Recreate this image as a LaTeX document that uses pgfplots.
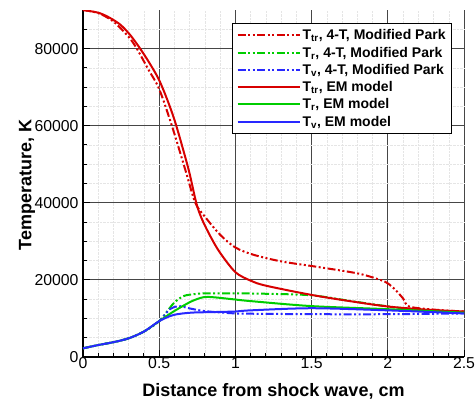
\documentclass[border=0pt]{standalone}
\usepackage{pgfplots}
\pgfplotsset{compat=1.18}
\usepackage{fontspec}
\setmainfont{Liberation Sans}
\definecolor{cred}{RGB}{215,0,0}
\definecolor{cgreen}{RGB}{0,205,0}
\definecolor{cblue}{RGB}{40,40,255}
\tikzset{ddot/.style={dash pattern=on 8pt off 2.5pt on 2pt off 2.5pt on 2pt off 2.5pt}}
\begin{document}
\begin{tikzpicture}
\begin{axis}[
  at={(0,0)}, anchor=south west,
  scale only axis, width=381pt, height=347pt,
  xmin=0, xmax=2.5, ymin=0, ymax=90000,
  axis x line*=bottom, axis y line*=left,
  axis line style={line width=1.6pt, -},
  xtick={0,0.5,1,1.5,2,2.5},
  ytick={0,20000,40000,60000,80000},
  minor xtick={0.1,0.2,0.3,0.4,0.6,0.7,0.8,0.9,1.1,1.2,1.3,1.4,1.6,1.7,1.8,1.9,2.1,2.2,2.3,2.4},
  minor ytick={5000,10000,15000,25000,30000,35000,45000,50000,55000,65000,70000,75000,85000},
  scaled y ticks=false,
  /pgf/number format/.cd, 1000 sep={}, assume math mode=true, /pgfplots/.cd,
  tick align=inside,
  major tick length=7pt, minor tick length=4pt,
  every tick/.style={black, line width=1pt},
  grid=both,
  major grid style={gray!55!black, line width=0.9pt},
  minor grid style={densely dotted, gray!20, line width=0.5pt},
  ticklabel style={font=\fontsize{15.8}{18}\selectfont},
  xticklabel style={yshift=3pt},
  yticklabel style={xshift=-1pt},
  xlabel={\textbf{Distance from shock wave, cm}},
  ylabel={\textbf{Temperature, K}},
  label style={font=\fontsize{18}{21}\selectfont},
  xlabel style={at={(axis description cs:0.5,-0.098)}, anchor=center},
  ylabel style={at={(axis description cs:-0.147,0.496)}, anchor=center},
  legend image code/.code={\draw[#1, line width=2pt] (0pt,0pt) -- (62pt,0pt);},
  legend style={at={(0.9685,0.962)}, anchor=north east, draw=black, line width=0.9pt,
    fill=white, font=\fontsize{14}{16}\selectfont\bfseries, inner sep=4pt,
    row sep=1.6pt, cells={anchor=west}},
  legend cell align=left,
  every axis plot/.append style={line width=2pt, smooth, tension=0.5},
]
\addplot[cred, ddot] coordinates {(0,90000)(0.1,89200)(0.2,87000)(0.3,83000)(0.353,80000)(0.43,74500)(0.5,69500)(0.583,60000)(0.671,48600)(0.737,40000)(0.8,36400)(0.9,31700)(1.0,28400)(1.12,26500)(1.3,24800)(1.5,23600)(1.8,21700)(1.95,20000)(2.0,19100)(2.05,17400)(2.1,15200)(2.14,13100)(2.3,12300)(2.5,11800)};
\addlegendentry{T\textsubscript{tr}, 4-T, Modified Park}
\addplot[cgreen, ddot] coordinates {(0,2250)(0.1,3100)(0.2,3850)(0.3,4850)(0.4,6600)(0.5,9300)(0.594,13900)(0.66,15800)(0.73,16300)(0.8,16500)(1.0,16500)(1.2,16400)(1.5,16000)(1.76,14500)(1.97,13300)(2.2,12200)(2.5,11500)};
\addlegendentry{T\textsubscript{r}, 4-T, Modified Park}
\addplot[cblue, ddot] coordinates {(0,2250)(0.1,3100)(0.2,3850)(0.3,4850)(0.4,6600)(0.5,9300)(0.57,12400)(0.63,13200)(0.7,12600)(0.8,11900)(1.0,11300)(1.2,11200)(1.5,11100)(2.0,11100)(2.5,11300)};
\addlegendentry{T\textsubscript{v}, 4-T, Modified Park}
\addplot[cred] coordinates {(0,90000)(0.1,89300)(0.17,88100)(0.245,86200)(0.31,83500)(0.375,80000)(0.44,76000)(0.5,71800)(0.56,66000)(0.612,60000)(0.693,48600)(0.743,40000)(0.78,35800)(0.84,31000)(0.9,27000)(1.0,22000)(1.1,19800)(1.2,18500)(1.5,16100)(1.75,14500)(2.0,13100)(2.25,12300)(2.5,11800)};
\addlegendentry{T\textsubscript{tr}, EM model}
\addplot[cgreen] coordinates {(0,2250)(0.1,3100)(0.2,3850)(0.3,4850)(0.4,6600)(0.5,9300)(0.594,11800)(0.71,14400)(0.79,15500)(0.855,15500)(0.99,14950)(1.1,14500)(1.5,13200)(2.0,12400)(2.5,11500)};
\addlegendentry{T\textsubscript{r}, EM model}
\addplot[cblue] coordinates {(0,2250)(0.1,3100)(0.2,3850)(0.3,4850)(0.4,6600)(0.5,9300)(0.594,10900)(0.71,11500)(0.85,11650)(1.0,11800)(1.1,12100)(1.5,12650)(2.0,12100)(2.5,11300)};
\addlegendentry{T\textsubscript{v}, EM model}
\end{axis}
\pgfresetboundingbox
\path[use as bounding box] (-83pt,-48pt) rectangle (393pt,357pt);
\end{tikzpicture}
\end{document}
